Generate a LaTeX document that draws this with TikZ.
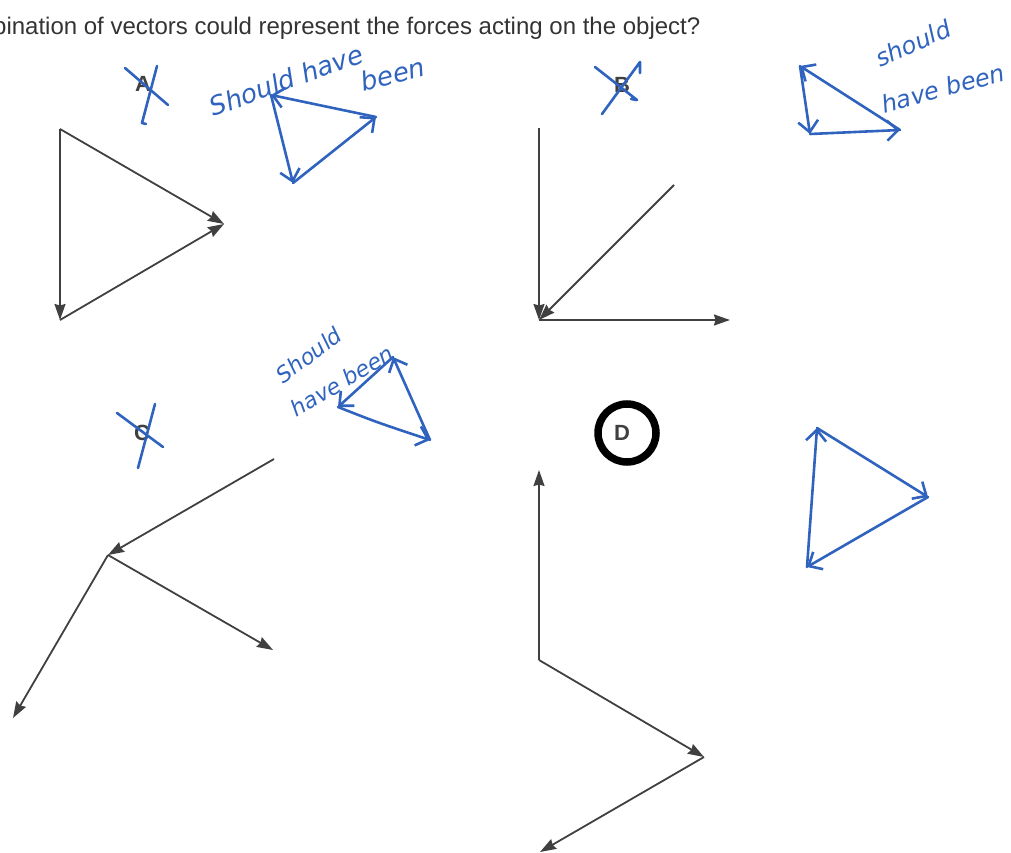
\documentclass[tikz,border=0pt]{standalone}
\usepackage{fontspec}
\setmainfont{Liberation Sans}
\newfontfamily\handfont{DejaVu Sans}
\usetikzlibrary{arrows.meta}
\definecolor{ink}{HTML}{333333}
\definecolor{vec}{HTML}{404040}
\definecolor{pen}{HTML}{2F63BE}
\tikzset{
  force/.style={-{Stealth[length=16pt,width=11pt,inset=1.5pt]}, line width=1.8pt, draw=vec},
  fix/.style={-{Straight Barb[length=11pt,width=20pt]}, line width=2.6pt, draw=pen,
              line cap=round, line join=round},
  cross/.style={line width=2.6pt, draw=pen, line cap=round, line join=round},
  note/.style={text=pen, inner sep=0pt, font=\handfont\itshape\fontsize{26}{26}\selectfont},
  opt/.style={text=vec, inner sep=0pt, font=\bfseries\fontsize{22}{22}\selectfont},
}

\begin{document}
\begin{tikzpicture}[x=1pt,y=-1pt]
  \useasboundingbox (0,0) rectangle (1011,853);
  \node[anchor=west, text=ink, inner sep=0pt, font=\fontsize{24}{24}\selectfont] (title) at (-7,28)
    {bination of vectors could represent the forces acting on the object?};

  % option A
  \node[opt] (la) at (143,84) {A};
  \coordinate (a1) at (60,129); \coordinate (a2) at (60,320); \coordinate (a3) at (224,224);
  \draw[force] (a1) -- (a2); \draw[force] (a1) -- (a3); \draw[force] (a2) -- (a3);
  \draw[cross] (125,68) -- (168,105); \draw[cross] (157,66) -- (142,123) -- (146,124);
  \node[note, rotate=20] (na1) at (286,80) {Should have};
  \node[note, rotate=14] (na2) at (393,74) {been};
  \coordinate (p1) at (271,95); \coordinate (p2) at (376,117); \coordinate (p3) at (293,183);
  \draw[fix] (p2) -- (p1); \draw[fix] (p1) -- (p3); \draw[fix] (p3) -- (p2);

  % option B
  \node[opt] (lb) at (622,85) {B};
  \coordinate (b0) at (539,320); \coordinate (b1) at (539,128);
  \coordinate (b2) at (674,185); \coordinate (b3) at (730,320);
  \draw[force] (b1) -- (b0); \draw[force] (b2) -- (b0); \draw[force] (b0) -- (b3);
  \draw[cross] (595,67) -- (637,100) -- (631,99); \draw[cross] (640,73) -- (640,62) -- (602,114);
  \node[note, rotate=24, font=\handfont\itshape\fontsize{24}{24}\selectfont] (nb1) at (913,43) {should};
  \node[note, rotate=15, font=\handfont\itshape\fontsize{24}{24}\selectfont] (nb2) at (943,88) {have been};
  \coordinate (q1) at (800,66); \coordinate (q2) at (900,130); \coordinate (q3) at (810,134);
  \draw[fix] (q2) -- (q1); \draw[fix] (q1) -- (q3); \draw[fix] (q3) -- (q2);

  % option C
  \node[opt] (lc) at (142,433) {C};
  \coordinate (c0) at (108,555); \coordinate (c1) at (274,459);
  \coordinate (c2) at (273,650); \coordinate (c3) at (13,718);
  \draw[force] (c1) -- (c0); \draw[force] (c0) -- (c2); \draw[force] (c0) -- (c3);
  \draw[cross] (117,413) -- (163,447); \draw[cross] (155,404) -- (138,468);
  \node[note, rotate=37, font=\handfont\itshape\fontsize{22}{22}\selectfont] (nc1) at (309,355) {Should};
  \node[note, rotate=31, font=\handfont\itshape\fontsize{22}{22}\selectfont] (nc2) at (342,381) {have been};
  \coordinate (r1) at (393,357); \coordinate (r2) at (338,407); \coordinate (r3) at (430,440);
  \draw[fix] (r1) -- (r2); \draw[fix] (r2) .. controls (376,422) .. (r3); \draw[fix] (r3) -- (r1);

  % option D
  \node[opt] (ld) at (622,433) {D};
  \node[draw=black, line width=7.5pt, circle, minimum size=58pt] (ring) at (627,433) {};
  \coordinate (d0) at (539,660); \coordinate (d1) at (539,470);
  \coordinate (d2) at (704,757); \coordinate (d3) at (540,852);
  \draw[force] (d0) -- (d1); \draw[force] (d0) -- (d2); \draw[force] (d2) -- (d3);
  \coordinate (s1) at (817,428); \coordinate (s2) at (928,497); \coordinate (s3) at (807,567);
  \draw[fix] (s3) -- (s1); \draw[fix] (s1) -- (s2); \draw[fix] (s2) -- (s3);
\end{tikzpicture}
\end{document}
